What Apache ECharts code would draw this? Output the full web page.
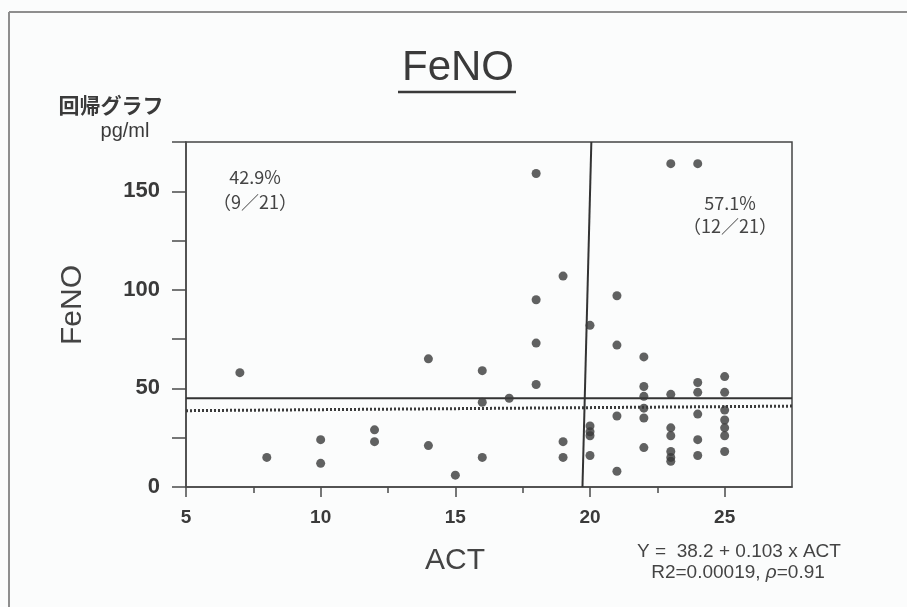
<!DOCTYPE html>
<html>
<head>
<meta charset="utf-8">
<script src="https://cdn.jsdelivr.net/npm/echarts@6/dist/echarts.min.js"></script>
<style>
  html, body { margin: 0; padding: 0; background: #fbfcfc; }
  #chart { width: 907px; height: 607px; }
</style>
</head>
<body>
<div id="chart"></div>
<script>
// ACT score groups and the FeNO readings (pg/ml) recorded in each group
const actScores = [7, 8, 10, 12, 14, 15, 16, 17, 18, 19, 20, 21, 22, 23, 24, 25];
const fenoByAct = [
  [58],
  [15],
  [24, 12],
  [29, 23],
  [65, 21],
  [6],
  [59, 43, 15],
  [45],
  [159, 95, 73, 52],
  [107, 23, 15],
  [82, 31, 28, 26, 16],
  [97, 72, 36, 8],
  [66, 51, 46, 40, 35, 20],
  [164, 47, 30, 26, 18, 15, 13],
  [164, 53, 48, 37, 24, 16],
  [56, 48, 39, 34, 30, 26, 18]
];

// axis ranges and tick values
const xRange = [5, 27.5];
const yRange = [0, 175];
const xLabelTicks = [5, 10, 15, 20, 25];
const xMinorTicks = [7.5, 12.5, 17.5, 22.5];
const yLabelTicks = [0, 50, 100, 150];

// regression fit  Y = a + b * ACT
const regIntercept = 38.2;
const regSlope = 0.103;

// cut-off lines: FeNO level and hand-drawn ACT divider (top / bottom ends)
const fenoCutoff = 45;
const actCutTop = 20.05;
const actCutBottom = 19.72;

// quadrant shares
const leftShare = ['42.9%', '（9／21）'];
const rightShare = ['57.1%', '（12／21）'];

const points = [];
actScores.forEach((a, i) => fenoByAct[i].forEach(v => points.push([a, v])));

const regLine = xRange.map(x => [x, regIntercept + regSlope * x]);
const cutLine = xRange.map(x => [x, fenoCutoff]);
const divLine = [[actCutTop, yRange[1]], [actCutBottom, yRange[0]]];

const ink = '#3a3a3a';
const grid = { left: 186, right: 115, top: 142, bottom: 120 };

const chart = echarts.init(document.getElementById('chart'), null, { renderer: 'canvas' });
chart.setOption({
  backgroundColor: '#fbfcfc',
  animation: false,
  grid: Object.assign({ show: true, borderColor: '#444', borderWidth: 1.5, backgroundColor: 'transparent' }, grid),
  xAxis: [{
    type: 'value', min: xRange[0], max: xRange[1], position: 'bottom',
    splitLine: { show: false },
    axisLine: { lineStyle: { color: '#4a4a4a', width: 1.5 } },
    axisTick: { customValues: xLabelTicks, length: 10, lineStyle: { color: '#4a4a4a', width: 1.5 } },
    axisLabel: { customValues: xLabelTicks, margin: 21, fontSize: 19, fontWeight: 'bold',
      fontFamily: 'Liberation Sans, Arial, sans-serif', color: ink }
  }, {
    type: 'value', min: xRange[0], max: xRange[1], position: 'bottom',
    splitLine: { show: false },
    axisLine: { show: false },
    axisTick: { customValues: xMinorTicks, length: 6, lineStyle: { color: '#4a4a4a', width: 1.5 } },
    axisLabel: { show: false }
  }],
  yAxis: {
    type: 'value', min: yRange[0], max: yRange[1], interval: 25,
    splitLine: { show: false },
    axisLine: { lineStyle: { color: '#4a4a4a', width: 1.5 } },
    axisTick: { length: 14, lineStyle: { color: '#4a4a4a', width: 1.5 } },
    axisLabel: { customValues: yLabelTicks, margin: 26, fontSize: 22, fontWeight: 'bold',
      fontFamily: 'Liberation Sans, Arial, sans-serif', color: ink }
  },
  series: [{
    type: 'line', data: regLine, showSymbol: false, silent: true, z: 2,
    lineStyle: { color: '#3a3a3a', width: 3, type: [2, 2] }
  }, {
    type: 'line', data: cutLine, showSymbol: false, silent: true, z: 3,
    lineStyle: { color: '#333', width: 2 }
  }, {
    type: 'line', data: divLine, showSymbol: false, silent: true, z: 3,
    lineStyle: { color: '#333', width: 2 }
  }, {
    type: 'scatter', data: points, symbolSize: 9, z: 4,
    itemStyle: { color: '#3a3a3a' }
  }],
  graphic: [
    // slide frame
    { type: 'line', shape: { x1: 9, y1: 12, x2: 907, y2: 12 }, style: { stroke: '#8e8e8e', lineWidth: 2 } },
    { type: 'line', shape: { x1: 9, y1: 12, x2: 9, y2: 607 }, style: { stroke: '#8e8e8e', lineWidth: 2 } },
    // title
    { type: 'text', x: 458, y: 68, style: { text: 'FeNO', font: '42px "Liberation Sans", Arial, sans-serif',
      fill: '#3a3a3a', align: 'center', verticalAlign: 'middle' } },
    { type: 'line', shape: { x1: 398, y1: 92, x2: 516, y2: 92 }, style: { stroke: '#3a3a3a', lineWidth: 2.5 } },
    { type: 'text', x: 111, y: 105, style: { text: '回帰グラフ', font: 'bold 21px "Noto Sans CJK JP", sans-serif',
      fill: '#3a3a3a', align: 'center', verticalAlign: 'middle' } },
    { type: 'text', x: 125, y: 131, style: { text: 'pg/ml', font: '20px "Liberation Sans", Arial, sans-serif',
      fill: '#3a3a3a', align: 'center', verticalAlign: 'middle' } },
    // axis names
    { type: 'text', x: 73, y: 305, rotation: Math.PI / 2, style: { text: 'FeNO', font: '30px "Liberation Sans", Arial, sans-serif',
      fill: '#444', align: 'center', verticalAlign: 'middle' } },
    { type: 'text', x: 455, y: 561, style: { text: 'ACT', font: '30px "Liberation Sans", Arial, sans-serif',
      fill: '#444', align: 'center', verticalAlign: 'middle' } },
    // quadrant shares
    { type: 'text', x: 255, y: 177, style: { text: leftShare[0], font: '18px "Noto Sans CJK JP", sans-serif',
      fill: '#444', align: 'center', verticalAlign: 'middle' } },
    { type: 'text', x: 255, y: 202, style: { text: leftShare[1], font: '18px "Noto Sans CJK JP", sans-serif',
      fill: '#444', align: 'center', verticalAlign: 'middle' } },
    { type: 'text', x: 730, y: 203, style: { text: rightShare[0], font: '18px "Noto Sans CJK JP", sans-serif',
      fill: '#444', align: 'center', verticalAlign: 'middle' } },
    { type: 'text', x: 730, y: 226, style: { text: rightShare[1], font: '18px "Noto Sans CJK JP", sans-serif',
      fill: '#444', align: 'center', verticalAlign: 'middle' } },
    // regression summary
    { type: 'text', x: 739, y: 552, style: {
      text: 'Y =  ' + regIntercept + ' + ' + regSlope + ' x ACT',
      font: '19px "Liberation Sans", Arial, sans-serif', fill: '#444', align: 'center', verticalAlign: 'middle' } },
    { type: 'text', x: 738, y: 573, style: {
      text: 'R2=0.00019, {i|ρ}=0.91',
      font: '19px "Liberation Sans", Arial, sans-serif', fill: '#444', align: 'center', verticalAlign: 'middle',
      rich: { i: { fontStyle: 'italic', fontSize: 19, fill: '#444' } } } }
  ]
});
</script>
</body>
</html>
